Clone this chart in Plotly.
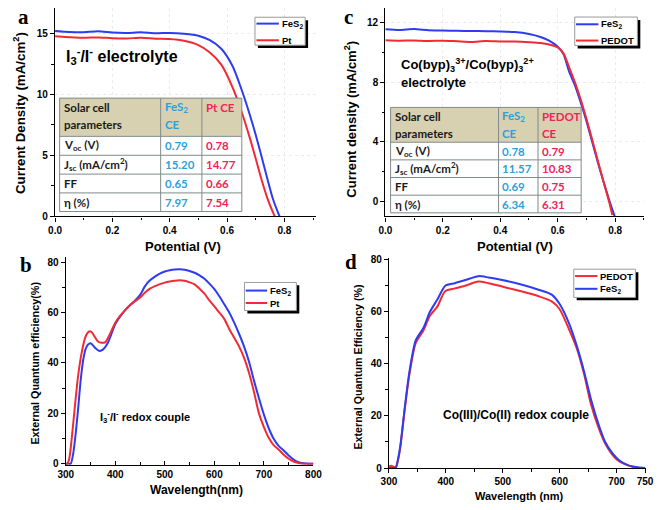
import plotly.graph_objects as go

# ---------------- data ----------------
# (a) J-V curves, I3-/I- electrolyte
a_v_fes2 = [0.00, 0.05, 0.10, 0.15, 0.20, 0.25, 0.30, 0.35, 0.40, 0.45, 0.50, 0.54, 0.58, 0.62, 0.65, 0.68, 0.70, 0.72, 0.74, 0.76, 0.78, 0.795]
a_j_fes2 = [15.20, 15.12, 15.10, 15.18, 15.08, 15.05, 15.10, 15.02, 15.05, 14.98, 14.82, 14.45, 13.75, 12.30, 10.45, 8.30, 6.70, 4.95, 3.15, 1.45, 0.20, -0.60]
a_v_pt = [0.00, 0.05, 0.10, 0.15, 0.20, 0.25, 0.30, 0.35, 0.40, 0.45, 0.50, 0.54, 0.58, 0.62, 0.65, 0.68, 0.70, 0.72, 0.74, 0.76, 0.775]
a_j_pt = [14.77, 14.70, 14.65, 14.68, 14.62, 14.60, 14.65, 14.58, 14.55, 14.40, 14.05, 13.45, 12.45, 10.55, 8.65, 6.40, 4.75, 3.05, 1.55, 0.35, -0.40]

# (c) J-V curves, Co(byp)3 electrolyte
c_v_fes2 = [0.00, 0.05, 0.10, 0.15, 0.20, 0.25, 0.30, 0.35, 0.40, 0.45, 0.50, 0.54, 0.57, 0.60, 0.62, 0.64, 0.66, 0.68, 0.70, 0.72, 0.74, 0.76, 0.78, 0.80]
c_j_fes2 = [11.57, 11.52, 11.58, 11.50, 11.48, 11.46, 11.45, 11.44, 11.42, 11.38, 11.25, 11.05, 10.80, 10.40, 9.90, 8.70, 7.80, 6.65, 5.40, 4.00, 2.60, 1.30, 0.05, -1.10]
c_v_pedot = [0.00, 0.05, 0.10, 0.15, 0.20, 0.25, 0.30, 0.35, 0.40, 0.45, 0.50, 0.54, 0.57, 0.60, 0.62, 0.64, 0.66, 0.68, 0.70, 0.72, 0.74, 0.76, 0.78, 0.79]
c_j_pedot = [10.83, 10.80, 10.82, 10.78, 10.80, 10.76, 10.72, 10.78, 10.75, 10.74, 10.70, 10.65, 10.55, 10.35, 9.95, 9.00, 8.00, 6.85, 5.55, 4.15, 2.70, 1.30, -0.10, -0.90]

# (b) EQE, I3-/I- redox couple
b_wl_fes2 = [300, 305, 310, 315, 320, 325, 330, 335, 340, 345, 350, 355, 360, 368, 375, 385, 395, 400, 410, 420, 430, 440, 450, 460, 470, 480, 490, 500, 510, 520, 530, 540, 550, 560, 570, 580, 590, 600, 610, 620, 630, 640, 650, 660, 670, 680, 690, 700, 710, 720, 730, 740, 750, 760, 770, 780, 790, 800]
b_eqe_fes2 = [0, 0, 0, 4, 12, 22, 33, 41, 45.5, 47.3, 47.8, 47.0, 45.8, 44.8, 45.3, 48.0, 53.0, 55.5, 58.5, 61.0, 63.0, 64.8, 67.0, 70.5, 72.8, 74.3, 75.5, 76.3, 76.8, 77.1, 77.2, 77.0, 76.5, 75.8, 74.8, 73.4, 71.5, 69.3, 66.5, 63.3, 60.0, 56.0, 51.5, 46.5, 40.5, 33.0, 26.0, 19.5, 14.0, 9.8, 7.0, 5.3, 3.3, 1.7, 0.6, 0.2, 0, 0]
b_wl_pt = [300, 303, 307, 312, 318, 325, 332, 340, 347, 352, 358, 365, 372, 380, 388, 395, 400, 410, 420, 430, 440, 450, 460, 470, 480, 490, 500, 510, 520, 530, 540, 550, 560, 570, 580, 590, 600, 610, 620, 630, 640, 650, 660, 670, 680, 690, 700, 710, 720, 730, 740, 750, 760, 770, 780, 800]
b_eqe_pt = [0, 0, 2, 10, 22, 35, 44, 50.5, 52.5, 52.3, 50.5, 48.5, 48.0, 48.3, 51.0, 54.0, 56.0, 58.8, 61.0, 63.0, 64.5, 66.0, 68.0, 69.5, 70.5, 71.3, 71.9, 72.3, 72.6, 72.8, 72.6, 72.0, 71.2, 69.5, 67.5, 64.8, 62.5, 60.0, 57.5, 53.5, 50.0, 46.5, 42.0, 36.0, 28.5, 20.0, 14.5, 10.2, 7.3, 5.6, 3.6, 2.0, 0.9, 0.3, 0, 0]

# (d) EQE, Co(III)/Co(II) redox couple
d_wl = [300, 304, 308, 312, 316, 320, 328, 336, 347, 361, 372, 385, 399, 416, 434, 457, 475, 499, 534, 563, 586, 600, 617, 630, 643, 655, 668, 680, 693, 705, 721, 737, 750]
d_eqe_pedot = [0.6, 0.9, 0.5, 0.3, 3.0, 8.0, 23.0, 36.0, 48.0, 53.0, 58.5, 62.0, 68.0, 69.0, 70.0, 71.6, 71.0, 69.7, 67.8, 66.0, 64.0, 61.0, 53.0, 46.0, 36.0, 24.5, 15.7, 9.4, 5.0, 2.5, 0.9, 0.1, 0]
d_eqe_fes2 = [0, 0, 0, 0.1, 3.5, 8.5, 23.5, 37.0, 49.0, 54.0, 60.0, 64.7, 70.0, 71.0, 72.2, 73.7, 73.2, 72.2, 70.4, 68.5, 66.6, 63.0, 55.3, 47.0, 37.0, 26.4, 17.0, 10.0, 5.6, 2.9, 1.0, 0.3, 0]

# inset tables
table_param_head = ["Solar cell", "parameters"]
table_rows = ["V<sub>oc</sub> (V)", "J<sub>sc</sub> (mA/cm<sup>2</sup>)", "FF", "η (%)"]
a_head_fes2 = ["FeS<sub>2</sub>", "CE"]
a_head_pt = ["Pt CE"]
a_tab_fes2 = ["0.79", "15.20", "0.65", "7.97"]
a_tab_pt = ["0.78", "14.77", "0.66", "7.54"]
c_head_fes2 = ["FeS<sub>2</sub>", "CE"]
c_head_pedot = ["PEDOT", "CE"]
c_tab_fes2 = ["0.78", "11.57", "0.69", "6.34"]
c_tab_pedot = ["0.79", "10.83", "0.75", "6.31"]

# ---------------- styling ----------------
W, H = 661, 510
def px(x):
    return x / W
def py(y):
    return 1 - y / H

BLUE = "#2d3cf0"
RED = "#f22a35"
FONT = "Liberation Sans, Arial, sans-serif"
SERIF = "Liberation Serif, Times New Roman, serif"
TFONT = "Lato, Open Sans, sans-serif"
TBLUE = "#2f9fdc"
TRED = "#f0245a"
TDARK = "#1a1a1a"
TAN = "#d7d1b1"
TLINE = "#7f8a8a"
TICKFONT = dict(family=FONT, size=10, color="black", weight="bold")

fig = go.Figure()

def line(x, y, color, xa, ya, name):
    fig.add_trace(go.Scatter(x=x, y=y, mode="lines", name=name, xaxis=xa, yaxis=ya,
                             line=dict(color=color, width=2, shape="spline", smoothing=0.7),
                             showlegend=False, hoverinfo="skip"))

line(a_v_fes2, a_j_fes2, BLUE, "x", "y", "FeS2")
line(a_v_pt, a_j_pt, RED, "x", "y", "Pt")
line(c_v_fes2, c_j_fes2, BLUE, "x2", "y2", "FeS2")
line(c_v_pedot, c_j_pedot, RED, "x2", "y2", "PEDOT")
line(b_wl_fes2, b_eqe_fes2, BLUE, "x3", "y3", "FeS2")
line(b_wl_pt, b_eqe_pt, RED, "x3", "y3", "Pt")
line(d_wl, d_eqe_pedot, RED, "x4", "y4", "PEDOT")
line(d_wl, d_eqe_fes2, BLUE, "x4", "y4", "FeS2")

def base_axis(domain, rng, dtick, mdtick, anchor, grid=False, fmt=None, tickvals=None, tdir="outside"):
    d = dict(domain=domain, range=rng, anchor=anchor, tick0=0, dtick=dtick,
             showline=True, linecolor="black", linewidth=1.3,
             ticks=tdir, ticklen=4, tickwidth=1.2, tickcolor="black",
             minor=dict(dtick=mdtick, tick0=0, ticks=tdir, ticklen=2.5, tickwidth=1, tickcolor="black"),
             showgrid=grid, gridcolor="#ebebeb", griddash="dot", gridwidth=1,
             zeroline=False, tickfont=TICKFONT, fixedrange=True)
    if fmt:
        d["tickformat"] = fmt
    if tickvals:
        d["tickmode"] = "array"
        d["tickvals"] = tickvals
        d.pop("dtick")
    return d

def over_axis(over, anchor, side, rng, dtick, mdtick, tickvals=None):
    d = dict(overlaying=over, anchor=anchor, side=side, range=rng, tick0=0, dtick=dtick,
             showline=True, linecolor="black", linewidth=1.3,
             ticks="inside", ticklen=4, tickwidth=1.2, tickcolor="black",
             minor=dict(dtick=mdtick, tick0=0, ticks="inside", ticklen=2.5, tickwidth=1, tickcolor="black"),
             showticklabels=False, showgrid=False, zeroline=False, fixedrange=True)
    if tickvals:
        d["tickmode"] = "array"
        d["tickvals"] = tickvals
        d.pop("dtick")
    return d

xa_dom, ya_dom = [px(48.3), px(316)], [py(216.7), py(4)]
xc_dom, yc_dom = [px(387.3), px(652.7)], [py(216.7), py(4)]
xb_dom, yb_dom = [px(59.3), px(313.5)], [py(470), py(257.7)]
xd_dom, yd_dom = [px(391), px(655)], [py(473.3), py(259)]

ra_x, ra_y = [0, 0.91], [0, 17.1]
rc_x, rc_y = [0, 0.9], [-1, 13]
rb_x, rb_y = [300, 800], [-0.4, 82.2]
rd_x, rd_y = [300, 752], [0, 80.7]
d_ticks = [300, 400, 500, 600, 700, 750]

fig.update_layout(
    xaxis=base_axis(xa_dom, ra_x, 0.2, 0.1, "y", grid=True, fmt=".1f"),
    yaxis=base_axis(ya_dom, ra_y, 5, 2.5, "x", grid=True),
    xaxis2=base_axis(xc_dom, rc_x, 0.2, 0.1, "y2", grid=True, fmt=".1f"),
    yaxis2=base_axis(yc_dom, rc_y, 4, 2, "x2", grid=True),
    xaxis3=base_axis(xb_dom, rb_x, 100, 50, "y3", tdir="inside"),
    yaxis3=base_axis(yb_dom, rb_y, 20, 10, "x3"),
    xaxis4=base_axis(xd_dom, rd_x, 100, 50, "y4", tickvals=d_ticks),
    yaxis4=base_axis(yd_dom, rd_y, 20, 10, "x4"),
    xaxis5=over_axis("x", "y", "top", ra_x, 0.2, 0.1),
    yaxis5=over_axis("y", "x", "right", ra_y, 5, 2.5),
    xaxis6=over_axis("x2", "y2", "top", rc_x, 0.2, 0.1),
    yaxis6=over_axis("y2", "x2", "right", rc_y, 4, 2),
    xaxis7=over_axis("x3", "y3", "top", rb_x, 100, 50),
    yaxis7=over_axis("y3", "x3", "right", rb_y, 20, 10),
    xaxis8=over_axis("x4", "y4", "top", rd_x, 100, 50, tickvals=d_ticks),
    yaxis8=over_axis("y4", "x4", "right", rd_y, 20, 10),
)

annotations = []
shapes = []

def text(x, y, s, size, xanchor="center", yanchor="middle", angle=0, family=FONT, color="black"):
    annotations.append(dict(x=px(x), y=py(y), xref="paper", yref="paper", text=s, showarrow=False,
                            xanchor=xanchor, yanchor=yanchor, textangle=angle, borderpad=0,
                            font=dict(family=family, size=size, color=color, weight="bold")))

# panel letters
text(16, 13, "a", 21, family=SERIF)
text(349, 13, "c", 21, family=SERIF)
text(18.5, 266, "b", 21, family=SERIF)
text(352, 263, "d", 21, family=SERIF)

# axis titles
text(180, 247, "Potential (V)", 13)
text(12.5, 111, "Current Density (mA/cm<sup>2</sup>)", 13.3, angle=-90)
text(520, 247, "Potential (V)", 13)
text(351, 117, "Current density (mA/cm<sup>2</sup>)", 13, angle=-90)
text(193, 496, "Wavelength(nm)", 12)
text(27.5, 366, "External Quantum efficiency(%)", 10.8, angle=-90)
text(525, 501.5, "Wavelength (nm)", 11)
text(359, 370, "External Quantum Efficiency (%)", 10.7, angle=-90)

# in-plot labels
text(59, 53, "I<sub>3</sub><sup>-</sup>/I<sup>-</sup> electrolyte", 16, xanchor="left")
text(402, 62, "Co(byp)<sub>3</sub><sup>3+</sup>/Co(byp)<sub>3</sub><sup>2+</sup>", 13, xanchor="left")
text(402, 80, "electrolyte", 13, xanchor="left")
text(93, 421, "I<sub>3</sub><sup>-</sup>/I<sup>-</sup> redox couple", 11, xanchor="left")
text(445, 419, "Co(III)/Co(II) redox couple", 12, xanchor="left")

# legends (boxed, with drop shadow)
def legend(x0, y0, x1, y1, items):
    shapes.append(dict(type="rect", xref="paper", yref="paper", x0=px(x0 + 3), x1=px(x1 + 3),
                       y0=py(y1 + 3), y1=py(y0 + 3), fillcolor="black", line=dict(width=0)))
    shapes.append(dict(type="rect", xref="paper", yref="paper", x0=px(x0), x1=px(x1),
                       y0=py(y1), y1=py(y0), fillcolor="white", line=dict(color="#9a9a9a", width=1)))
    for (ly, lx0, lx1, col, lab) in items:
        shapes.append(dict(type="line", xref="paper", yref="paper", x0=px(lx0), x1=px(lx1),
                           y0=py(ly), y1=py(ly), line=dict(color=col, width=2)))
        text(lx1 + 2, ly, lab, 9.5, xanchor="left")

legend(253.5, 13.5, 305, 42, [(20, 255, 278, BLUE, "FeS<sub>2</sub>"), (37, 255, 278, RED, "Pt")])
legend(581.7, 13.3, 646, 42.3, [(20.7, 583, 606, BLUE, "FeS<sub>2</sub>"), (37.3, 583, 606, RED, "PEDOT")])
legend(242.7, 284, 296, 312.7, [(292.3, 244, 266, BLUE, "FeS<sub>2</sub>"), (305, 244, 266, RED, "Pt")])
legend(580.7, 270.5, 644, 299.3, [(277.5, 582, 605, RED, "PEDOT"), (290.5, 582, 605, BLUE, "FeS<sub>2</sub>")])

# inset tables (drawn from the table lists)
def inset_table(xe, ye, heads, cols, colors, fsize, head_dy, line_gap):
    shapes.append(dict(type="rect", xref="paper", yref="paper", x0=px(xe[0]), x1=px(xe[-1]),
                       y0=py(ye[1]), y1=py(ye[0]), fillcolor=TAN, line=dict(width=0)))
    shapes.append(dict(type="rect", xref="paper", yref="paper", x0=px(xe[0]), x1=px(xe[-1]),
                       y0=py(ye[-1]), y1=py(ye[1]), fillcolor="white", line=dict(width=0)))
    for xv in xe:
        shapes.append(dict(type="line", xref="paper", yref="paper", x0=px(xv), x1=px(xv),
                           y0=py(ye[-1]), y1=py(ye[0]), line=dict(color=TLINE, width=1)))
    for yv in ye:
        shapes.append(dict(type="line", xref="paper", yref="paper", x0=px(xe[0]), x1=px(xe[-1]),
                           y0=py(yv), y1=py(yv), line=dict(color=TLINE, width=1)))
    for j, head in enumerate(heads):
        for k, h in enumerate(head):
            text(xe[j] + 3, ye[0] + head_dy + k * line_gap, h, fsize, xanchor="left",
                 family=TFONT, color=colors[j])
    for j, col in enumerate(cols):
        for i, v in enumerate(col):
            text(xe[j] + 3, (ye[i + 1] + ye[i + 2]) / 2, v, fsize, xanchor="left",
                 family=TFONT, color=colors[j])

inset_table([53, 156.7, 199, 240], [96, 135, 154.3, 173.5, 192.7, 211.7],
            [table_param_head, a_head_fes2, a_head_pt],
            [table_rows, a_tab_fes2, a_tab_pt], [TDARK, TBLUE, TRED], 11.5, 10, 17.3)
inset_table([392.7, 503.5, 544, 588.3], [105.5, 141, 159, 177, 195, 213],
            [table_param_head, c_head_fes2, c_head_pedot],
            [table_rows, c_tab_fes2, c_tab_pedot], [TDARK, TBLUE, TRED], 11.5, 9.5, 17.5)

fig.update_layout(
    width=W, height=H, margin=dict(l=0, r=0, t=0, b=0),
    paper_bgcolor="white", plot_bgcolor="white", showlegend=False,
    annotations=annotations, shapes=shapes,
)

fig.write_html("out.html", config={"displayModeBar": False},
               post_script="document.body.style.margin='0px';")
